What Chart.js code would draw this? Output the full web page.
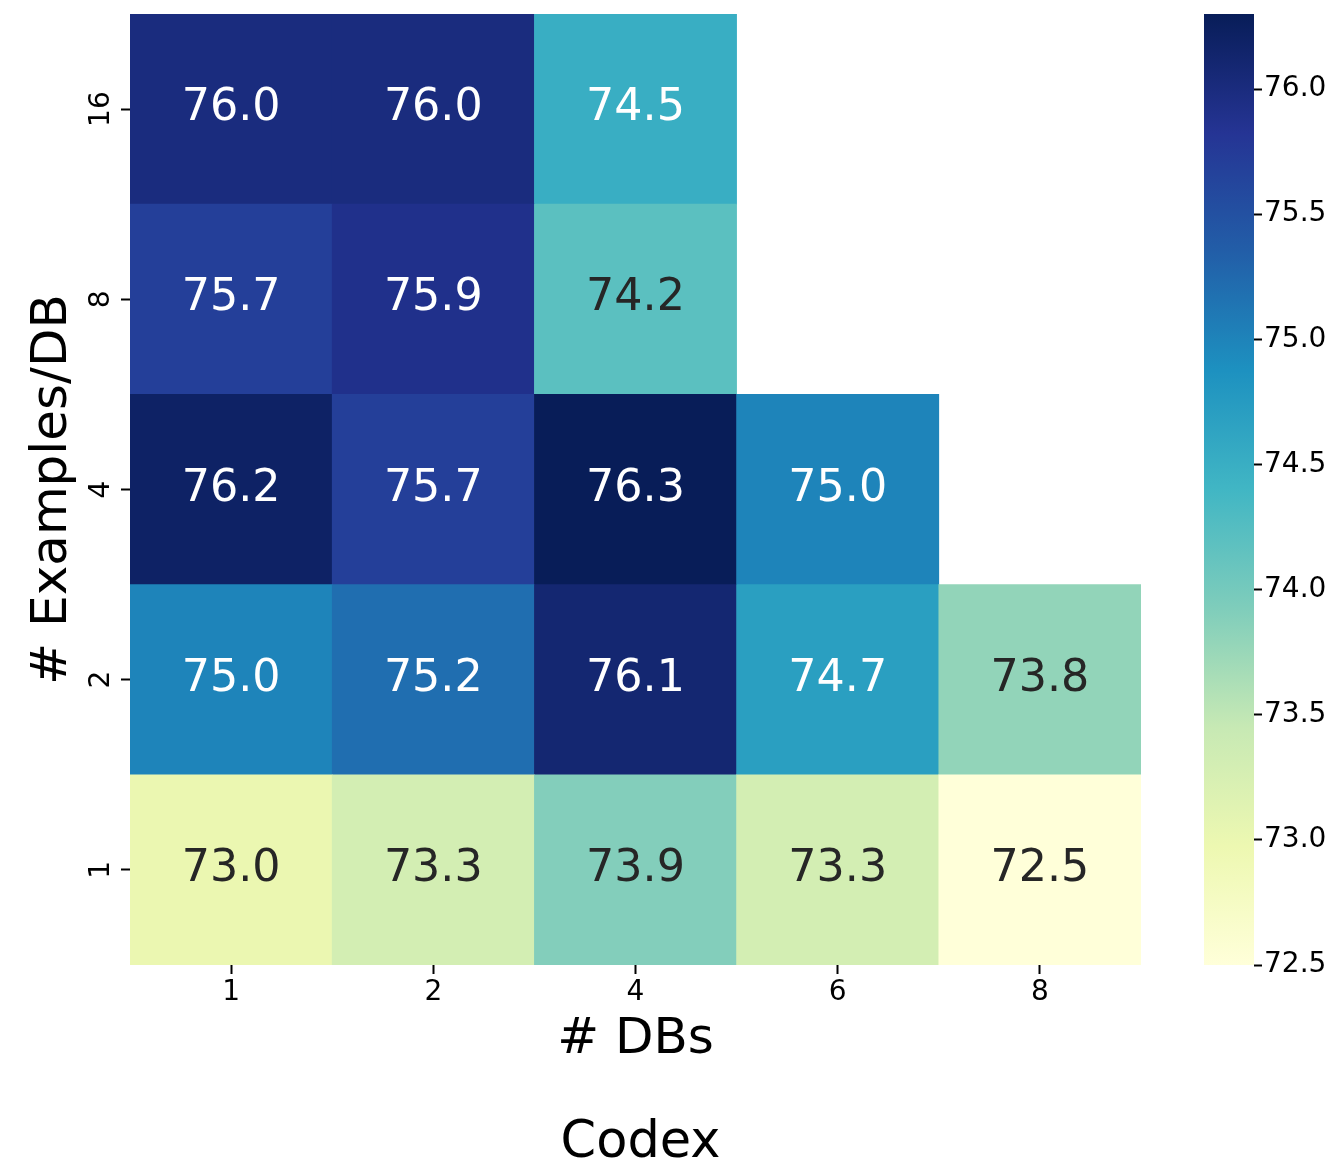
<!DOCTYPE html>
<html>
<head>
<meta charset="utf-8">
<script src="https://cdn.jsdelivr.net/npm/chart.js@4.4.1/dist/chart.umd.min.js"></script>
<style>
  html, body { margin: 0; padding: 0; background: #fff; }
  #wrap { position: relative; width: 1334px; height: 1165px; }
  #heat { position: absolute; left: 0; top: 0; }
  #cbar { position: absolute; left: 1180px; top: 0; }
</style>
</head>
<body>
<div id="wrap">
  <canvas id="heat" width="1180" height="1165"></canvas>
  <canvas id="cbar" width="154" height="1165"></canvas>
</div>
<script>
// Column categories (# DBs) and row categories (# Examples/DB, bottom to top)
const dbCounts = ['1', '2', '4', '6', '8'];
const examplesPerDb = ['1', '2', '4', '8', '16'];

// Accuracy per row, one entry per DB count (null = not evaluated)
const row1  = [73.0, 73.3, 73.9, 73.3, 72.5];
const row2  = [75.0, 75.2, 76.1, 74.7, 73.8];
const row4  = [76.2, 75.7, 76.3, 75.0, null];
const row8  = [75.7, 75.9, 74.2, null, null];
const row16 = [76.0, 76.0, 74.5, null, null];

// Colour bar range and ticks
const vMin = 72.5;
const vMax = 76.3;
const colorTicks = [72.5, 73.0, 73.5, 74.0, 74.5, 75.0, 75.5, 76.0];

const rows = [row1, row2, row4, row8, row16];

// YlGnBu colour map anchors
const ylgnbu = ['#ffffd9', '#edf8b1', '#c7e9b4', '#7fcdbb', '#41b6c4',
                '#1d91c0', '#225ea8', '#253494', '#081d58'];

function hexToRgb(h) {
  return [parseInt(h.slice(1, 3), 16), parseInt(h.slice(3, 5), 16), parseInt(h.slice(5, 7), 16)];
}
function mapRgb(v) {
  let t = (v - vMin) / (vMax - vMin);
  t = Math.max(0, Math.min(1, t));
  const p = t * (ylgnbu.length - 1);
  const i = Math.min(Math.floor(p), ylgnbu.length - 2);
  const f = p - i;
  const a = hexToRgb(ylgnbu[i]), b = hexToRgb(ylgnbu[i + 1]);
  return a.map((c, k) => Math.round(c + (b[k] - c) * f));
}
function mapColor(v) {
  const [r, g, b] = mapRgb(v);
  return `rgb(${r},${g},${b})`;
}
function textColorFor(v) {
  const lin = mapRgb(v).map(c => {
    c /= 255;
    return c <= 0.03928 ? c / 12.92 : Math.pow((c + 0.055) / 1.055, 2.4);
  });
  const lum = 0.2126 * lin[0] + 0.7152 * lin[1] + 0.0722 * lin[2];
  return lum > 0.408 ? '#262626' : '#ffffff';
}

const FONT = 'DejaVu Sans';
const tickFont = { family: FONT, size: 28 };
const labelFont = { family: FONT, size: 50 };

// Keep the plot area flush with the layout padding
function noEdgePadding(s) {
  s.paddingTop = 0;
  s.paddingBottom = 0;
}

// Cell annotations and the bottom caption
const annotate = {
  id: 'annotate',
  afterDatasetsDraw(chart) {
    const { ctx, scales: { x, y }, chartArea } = chart;
    ctx.save();
    ctx.font = `44.4px "${FONT}"`;
    ctx.textAlign = 'center';
    ctx.textBaseline = 'alphabetic';
    rows.forEach((vals, r) => {
      vals.forEach((v, c) => {
        if (v === null) return;
        ctx.fillStyle = textColorFor(v);
        ctx.fillText(v.toFixed(1), x.getPixelForValue(c), y.getPixelForValue(r) + 11);
      });
    });
    ctx.font = `51px "${FONT}"`;
    ctx.fillStyle = '#000';
    ctx.fillText('Codex', (chartArea.left + chartArea.right) / 2 + 5, 1157);
    ctx.restore();
  }
};

new Chart(document.getElementById('heat'), {
  type: 'bar',
  data: {
    labels: dbCounts,
    datasets: rows.map((vals, r) => ({
      data: vals.map(v => (v === null ? null : [r - 0.5, r + 0.5])),
      backgroundColor: vals.map(v => (v === null ? 'rgba(0,0,0,0)' : mapColor(v))),
      borderWidth: 0,
      borderSkipped: false,
      barPercentage: 1,
      categoryPercentage: 1,
      grouped: false
    }))
  },
  options: {
    responsive: false,
    animation: false,
    layout: { padding: { left: 0, top: 14, right: 39, bottom: 95 } },
    plugins: { legend: { display: false }, tooltip: { enabled: false } },
    scales: {
      x: {
        type: 'category',
        offset: true,
        border: { display: false },
        grid: { offset: false, drawOnChartArea: false, drawTicks: true, tickLength: 9, tickWidth: 2, tickColor: '#000' },
        ticks: { font: tickFont, color: '#000', padding: 2, maxRotation: 0 },
        title: { display: true, text: '# DBs', font: labelFont, color: '#000', padding: { top: 0, bottom: 0 } },
        afterFit: s => { s.height = 105; s.paddingLeft = 0; s.paddingRight = 0; }
      },
      y: {
        type: 'linear',
        min: -0.5,
        max: 4.5,
        afterBuildTicks: s => { s.ticks = examplesPerDb.map((_, i) => ({ value: i })); },
        border: { display: false },
        grid: { drawOnChartArea: false, drawTicks: true, tickLength: 9, tickWidth: 2, tickColor: '#000' },
        ticks: {
          callback: v => examplesPerDb[v],
          minRotation: 90, maxRotation: 90, crossAlign: 'center',
          font: tickFont, color: '#000', padding: 1
        },
        title: { display: true, text: '# Examples/DB', font: labelFont, color: '#000', padding: { top: 23, bottom: 0 } },
        afterFit: s => { s.width = 130; noEdgePadding(s); }
      }
    }
  },
  plugins: [annotate]
});

// Colour bar
function barGradient(context) {
  const chart = context.chart;
  const { ctx, chartArea, scales } = chart;
  if (!chartArea) return null;
  const y = scales.y;
  const g = ctx.createLinearGradient(0, y.getPixelForValue(vMin), 0, y.getPixelForValue(vMax));
  ylgnbu.forEach((c, i) => g.addColorStop(i / (ylgnbu.length - 1), c));
  return g;
}

new Chart(document.getElementById('cbar'), {
  type: 'bar',
  data: {
    labels: ['scale'],
    datasets: [{
      data: [[vMin, vMax]],
      backgroundColor: barGradient,
      borderWidth: 0,
      borderSkipped: false,
      barPercentage: 1,
      categoryPercentage: 1
    }]
  },
  options: {
    responsive: false,
    animation: false,
    layout: { padding: { left: 24, top: 14, right: 0, bottom: 200 } },
    plugins: { legend: { display: false }, tooltip: { enabled: false } },
    scales: {
      x: { display: false },
      y: {
        position: 'right',
        min: vMin,
        max: vMax,
        afterBuildTicks: s => { s.ticks = colorTicks.map(v => ({ value: v })); },
        border: { display: false },
        grid: { drawOnChartArea: false, drawTicks: true, tickLength: 8, tickWidth: 2, tickColor: '#000' },
        ticks: { callback: v => v.toFixed(1), font: tickFont, color: '#000', padding: 2 },
        afterFit: s => { s.width = 80; noEdgePadding(s); }
      }
    }
  }
});
</script>
</body>
</html>
